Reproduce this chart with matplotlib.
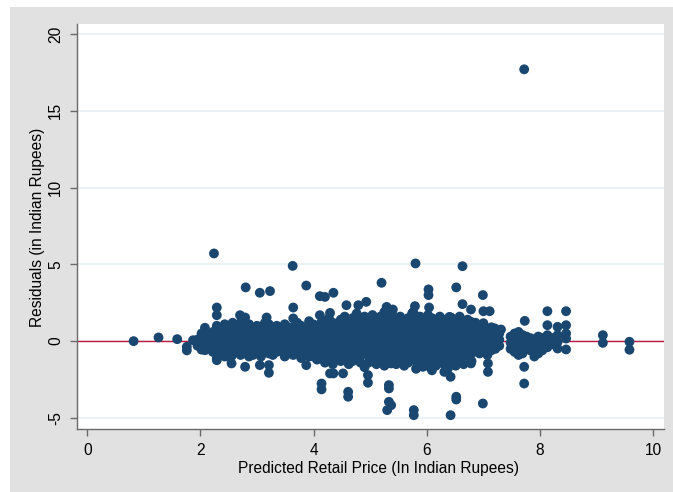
import matplotlib
matplotlib.use("Agg")
import matplotlib.pyplot as plt
from matplotlib.patches import Rectangle

# ---------------- data ----------------
# dense central band: column positions (predicted price) and residuals in each column
band_cols = [1.95, 2.02, 2.08, 2.15, 2.22, 2.29, 2.36, 2.43, 2.50, 2.57, 2.64, 2.71, 2.79,
             2.86, 2.93, 3.00, 3.07, 3.14, 3.21, 3.28, 3.35, 3.42, 3.49, 3.56, 3.64, 3.71,
             3.78, 3.85, 3.92, 3.99, 4.06, 4.13, 4.20, 4.27, 4.34, 4.41, 4.48, 4.55, 4.62,
             4.69, 4.76, 4.83, 4.90, 4.97, 5.04, 5.11, 5.18, 5.25, 5.32, 5.39, 5.46, 5.53,
             5.60, 5.67, 5.74, 5.81, 5.88, 5.95, 6.02, 6.09, 6.16, 6.23, 6.30, 6.37, 6.44,
             6.51, 6.58, 6.65, 6.72, 6.79, 6.86, 6.93, 7.00, 7.07, 7.14, 7.21, 7.28, 7.48,
             7.55, 7.62, 7.69, 7.76, 7.83, 7.90, 7.97, 8.04, 8.13, 8.22, 8.31, 8.46]
band_resid = [
    [0.1, -0.3], [0.5, -0.2, 0.2, -0.55], [0.87, 0.3, -0.1, -0.59], [0.4, 0.0, -0.4],
    [0.6, 0.2, -0.2, -0.7], [1.0, 0.5, 0.1, -0.3, -0.7, -1.13], [0.8, 0.3, -0.1, -0.5, -0.9],
    [1.1, 0.6, 0.2, -0.2, -0.6, -1.0], [0.7, 0.3, -0.1, -0.5, -1.02],
    [1.2, 0.8, 0.4, 0.0, -0.4, -0.8], [1.0, 0.5, 0.1, -0.3, -0.7],
    [1.2, 0.7, 0.3, -0.1, -0.5, -0.9], [0.9, 0.4, 0.0, -0.4, -0.8],
    [1.1, 0.6, 0.2, -0.2, -0.6, -1.0], [0.8, 0.3, -0.1, -0.5, -0.9],
    [1.0, 0.5, 0.1, -0.3, -0.7], [0.7, 0.3, -0.1, -0.5, -1.0], [1.2, 0.6, 0.2, -0.2, -0.6],
    [1.1, 0.6, 0.1, -0.3, -0.8], [0.9, 0.4, 0.0, -0.4, -0.9], [1.0, 0.5, 0.1, -0.3, -0.7],
    [0.7, 0.2, -0.2, -0.6], [1.1, 0.6, 0.2, -0.2, -0.6, -1.0], [0.9, 0.4, 0.0, -0.4, -0.8],
    [0.9, 0.4, 0.0, -0.4, -0.9], [1.2, 0.6, 0.2, -0.2, -0.6], [1.0, 0.5, 0.1, -0.3, -0.7, -1.1],
    [0.8, 0.3, -0.1, -0.5, -0.9], [1.3, 0.7, 0.3, -0.1, -0.5, -1.0],
    [1.1, 0.6, 0.2, -0.2, -0.6, -1.0], [1.0, 0.5, 0.1, -0.3, -0.7, -1.2],
    [1.2, 0.7, 0.2, -0.2, -0.6, -1.1], [1.3, 0.8, 0.3, -0.1, -0.5, -1.0, -1.4],
    [1.5, 1.0, 0.5, 0.1, -0.3, -0.8, -1.2], [1.2, 0.7, 0.2, -0.2, -0.7, -1.5],
    [1.1, 0.6, 0.2, -0.2, -0.6, -1.0], [1.4, 0.9, 0.4, 0.0, -0.4, -0.9, -1.3],
    [1.6, 1.1, 0.6, 0.1, -0.3, -0.7, -1.1], [1.3, 0.8, 0.3, -0.1, -0.5, -1.0, -1.5],
    [1.5, 1.0, 0.5, 0.0, -0.4, -0.8, -1.3], [1.8, 1.2, 0.7, 0.2, -0.2, -0.7, -1.2],
    [1.4, 0.9, 0.4, 0.0, -0.4, -0.9, -1.4], [1.6, 1.1, 0.6, 0.1, -0.3, -0.8, -1.7],
    [1.3, 0.8, 0.3, -0.1, -0.5, -1.0, -1.4], [1.7, 1.2, 0.7, 0.2, -0.2, -0.7, -1.2],
    [1.4, 0.9, 0.4, 0.0, -0.4, -0.9, -1.5], [1.6, 1.1, 0.6, 0.1, -0.3, -0.8, -1.3],
    [1.9, 1.3, 0.8, 0.3, -0.2, -0.6, -1.1, -1.6], [1.5, 1.0, 0.5, 0.0, -0.4, -0.9, -1.4],
    [1.7, 1.2, 0.7, 0.2, -0.3, -0.7, -1.2], [1.4, 0.9, 0.4, -0.1, -0.5, -1.0, -1.5],
    [1.6, 1.1, 0.6, 0.1, -0.4, -0.8, -1.3], [1.3, 0.8, 0.3, -0.2, -0.6, -1.1, -1.6],
    [1.5, 1.0, 0.5, 0.0, -0.4, -0.9, -1.4], [1.8, 1.2, 0.7, 0.2, -0.3, -0.7, -1.2],
    [1.4, 0.9, 0.4, -0.1, -0.5, -1.0, -1.8], [1.6, 1.1, 0.6, 0.1, -0.4, -0.8, -1.3],
    [1.3, 0.8, 0.3, -0.2, -0.6, -1.1, -1.5], [1.7, 1.2, 0.7, 0.2, -0.3, -0.7, -1.2],
    [1.5, 1.0, 0.5, 0.0, -0.4, -0.9, -1.4, -1.9], [1.2, 0.7, 0.2, -0.2, -0.6, -1.1, -1.6],
    [1.6, 1.1, 0.6, 0.1, -0.4, -0.8, -1.3], [1.4, 0.9, 0.4, -0.1, -0.5, -1.0, -1.5],
    [1.1, 0.6, 0.1, -0.3, -0.7, -1.2, -1.8], [1.5, 1.0, 0.5, 0.0, -0.4, -0.9, -1.4],
    [1.3, 0.8, 0.3, -0.2, -0.6, -1.1, -1.6], [1.6, 1.1, 0.6, 0.1, -0.4, -0.8, -1.3],
    [1.2, 0.7, 0.2, -0.2, -0.6, -1.0, -1.5], [1.4, 0.9, 0.4, -0.1, -0.5, -0.9],
    [1.0, 0.5, 0.0, -0.4, -0.8, -1.3], [1.2, 0.7, 0.2, -0.2, -0.6], [0.9, 0.4, 0.0, -0.4, -0.8],
    [1.17, 0.6, 0.1, -0.3, -0.7], [0.8, 0.3, -0.1, -0.5, -0.9], [0.9, 0.5, 0.1, -0.3, -0.6],
    [0.6, 0.2, -0.2, -0.5], [0.5, 0.1, -0.3], [0.3, -0.1, -0.5], [0.5, 0.1, -0.3, -0.7],
    [0.6, 0.2, -0.2, -0.6, -0.9], [0.4, 0.0, -0.4, -0.8], [0.3, -0.1, -0.5], [0.2, -0.2, -0.6],
    [0.1, -0.3, -1.0], [0.3, -0.1, -0.5, -0.8], [0.2, -0.2, -0.6],
    [1.95, 1.04, 0.39, -0.1, -0.4], [0.2, -0.2], [0.93, 0.39, -0.05, -0.48],
    [1.95, 1.04, 0.5, 0.17, -0.54],
]

# isolated points above the band
upper_pred = [7.72, 2.24, 3.63, 5.80, 6.63, 5.20, 3.87, 2.80, 3.05, 3.23, 4.11, 4.35,
              6.03, 6.03, 6.52, 6.99, 2.29, 2.29, 3.64, 2.70, 2.79, 3.17, 3.64, 4.11,
              4.29, 4.58, 4.79, 4.93, 5.29, 5.40, 5.79, 6.04, 5.76, 6.63, 6.78, 7.00,
              7.11, 6.42, 5.59, 6.11, 6.99, 7.20, 7.31, 7.73, 6.40, 6.78, 4.20]
upper_resid = [17.7, 5.71, 4.90, 5.06, 4.88, 3.80, 3.62, 3.50, 3.15, 3.26, 2.93, 3.15,
               3.37, 3.00, 3.50, 3.00, 2.19, 1.69, 2.19, 1.69, 1.54, 1.54, 1.48, 1.69,
               1.84, 2.34, 2.34, 2.56, 2.23, 2.06, 2.28, 2.19, 1.90, 2.41, 2.06, 1.95,
               1.95, 1.54, 1.32, 1.26, 1.04, 0.83, 0.76, 1.32, 1.58, 1.26, 2.88]

# isolated points below the band
lower_pred = [5.33, 5.33, 5.33, 5.37, 5.30, 5.77, 5.77, 6.42, 6.52, 6.52, 6.99, 7.08,
              7.08, 6.42, 5.83, 5.93, 5.29, 7.72, 7.72, 6.34, 2.55, 2.55, 2.79, 3.05,
              3.21, 3.21, 3.87, 4.29, 4.35, 4.52, 4.14, 4.14, 4.96, 4.96, 4.61, 4.61,
              5.37, 2.29, 6.05, 6.31, 6.78]
lower_resid = [-2.86, -3.08, -3.95, -4.17, -4.49, -4.49, -4.82, -4.82, -3.62, -3.80,
               -4.06, -1.45, -2.00, -2.32, -1.67, -1.67, -1.45, -1.67, -2.76, -1.89,
               -0.98, -1.45, -1.67, -1.56, -1.56, -2.06, -1.56, -2.10, -2.10, -2.10,
               -2.76, -3.14, -2.21, -2.71, -3.30, -3.62, -1.45, -1.24, -1.67, -2.00, -1.45]

# sparse points at the low end of predicted prices
left_pred = [0.82, 1.26, 1.59, 1.76, 1.76, 1.87]
left_resid = [0.00, 0.24, 0.13, -0.37, -0.60, 0.06]

# sparse points at the high end of predicted prices
right_pred = [9.11, 9.11, 9.58, 9.58]
right_resid = [0.39, -0.11, -0.04, -0.56]

x_ticks = [0, 2, 4, 6, 8, 10]
y_ticks = [-5, 0, 5, 10, 15, 20]
x_title = "Predicted Retail Price (In Indian Rupees)"
y_title = "Residuals (in Indian Rupees)"

# ---------------- assemble ----------------
px, py = [], []
for c, vals in zip(band_cols, band_resid):
    for v in vals:
        px.append(c)
        py.append(v)
px += upper_pred + lower_pred + left_pred + right_pred
py += upper_resid + lower_resid + left_resid + right_resid

# ---------------- figure ----------------
W, H = 673, 492
plt.rcParams["font.family"] = ["Liberation Sans", "DejaVu Sans"]
fig = plt.figure(figsize=(W / 100, H / 100), dpi=100, facecolor="white")

bg = "#e1e1e1"
fig.patches.append(Rectangle((10 / W, 0), 1 - 10 / W, 1 - 7 / H, transform=fig.transFigure,
                             facecolor=bg, edgecolor="none", zorder=-10))

ax = fig.add_axes([77 / W, 1 - 429 / H, (664 - 77) / W, (429 - 24) / H])
ax.set_zorder(5)
ax.set_facecolor("white")
ax.set_xlim(-0.18, 10.19)
ax.set_ylim(-5.72, 20.65)

ax.set_xticks(x_ticks)
ax.set_yticks(y_ticks)
ax.set_xticklabels([str(t) for t in x_ticks])
ax.set_yticklabels([str(t) for t in y_ticks], rotation=90, va="center")

for t in y_ticks:
    ax.axhline(t, color="#e8f0f2", lw=1.2, zorder=0.5)

ax.axhline(0, color="#c0163f", lw=1.0, zorder=1)
ax.scatter(px, py, s=50, color="#1a476f", edgecolors="none", zorder=2)

for s in ["top", "right"]:
    ax.spines[s].set_visible(False)
for s in ["left", "bottom"]:
    ax.spines[s].set_color("#6a6a6a")
    ax.spines[s].set_linewidth(1.0)

ax.tick_params(axis="both", direction="out", length=5, width=1, color="#6a6a6a",
               labelsize=11.2, labelcolor="black")
ax.tick_params(axis="x", pad=5)
ax.tick_params(axis="y", pad=5)

fig.text(378 / W, 1 - 468 / H, x_title, ha="center", va="center", fontsize=11.2)
fig.text(38 / W, 1 - 227 / H, y_title, ha="center", va="center", rotation=90, fontsize=11.2)

fig.savefig("out.png", dpi=100, facecolor="white")
